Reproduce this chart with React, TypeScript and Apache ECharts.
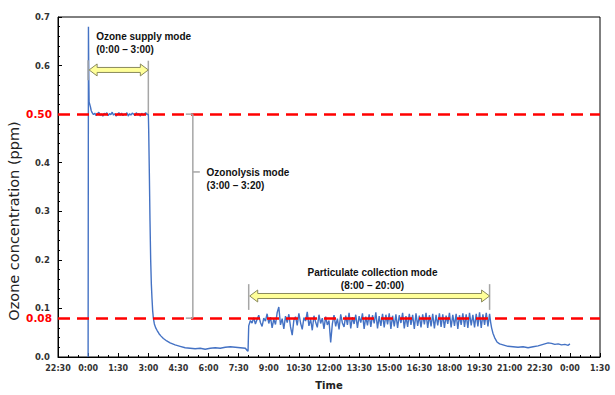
import React, { useEffect, useRef } from "react";
import * as echarts from "echarts";

// ---- data (time in minutes from 0:00, ozone ppm) ----
const xTickLabelsMin = -90; // 22:30 previous day
const xTickLabelsMax = 1530; // 1:30 next day
const xTickInterval = 90;

const startSpike: [number, number][] = [
  [0, 0], [1, 0.68], [2, 0.58], [3, 0.525], [5, 0.52], [7, 0.515], [9, 0.508],
];

const plateauStart = 12;
const plateauStep = 4;
const plateauValues = [
  0.503, 0.499, 0.502, 0.497, 0.501, 0.504, 0.498, 0.500, 0.496, 0.502,
  0.499, 0.503, 0.497, 0.501, 0.499, 0.504, 0.498, 0.501, 0.496, 0.500,
  0.503, 0.498, 0.502, 0.497, 0.500, 0.499, 0.503, 0.496, 0.501, 0.498,
  0.502, 0.500, 0.497, 0.503, 0.499, 0.501, 0.496, 0.502, 0.498, 0.500,
  0.503, 0.499, 0.501,
];

const ozonolysisDecay: [number, number][] = [
  [181, 0.47], [183, 0.38], [185, 0.28], [187, 0.2], [189, 0.15], [191, 0.12],
  [193, 0.095], [195, 0.08], [198, 0.068], [202, 0.06], [206, 0.055],
  [212, 0.048], [218, 0.043], [225, 0.038], [235, 0.033],
];

const baselineMorning: [number, number][] = [
  [245, 0.029], [260, 0.025], [275, 0.022], [290, 0.019], [305, 0.018],
  [320, 0.017], [335, 0.018], [350, 0.016], [365, 0.018], [380, 0.019],
  [395, 0.018], [410, 0.02], [425, 0.021], [440, 0.02], [455, 0.019],
  [470, 0.018], [476, 0.013], [478, 0.012],
];

const collectionStart = 480;
const collectionStep = 5;
const collectionValues = [
  0.064, 0.075, 0.070, 0.081, 0.068, 0.077, 0.086, 0.071, 0.063, 0.080,
  0.074, 0.089, 0.069, 0.082, 0.060, 0.078, 0.067, 0.091, 0.103, 0.066,
  0.079, 0.058, 0.084, 0.071, 0.088, 0.062, 0.045, 0.076, 0.083, 0.065,
  0.090, 0.070, 0.057, 0.081, 0.074, 0.093, 0.064, 0.078, 0.055, 0.085,
  0.072, 0.061, 0.087, 0.069, 0.080, 0.058, 0.083, 0.066, 0.075, 0.030,
  0.068, 0.086, 0.063, 0.079, 0.057, 0.088, 0.070, 0.062, 0.085, 0.066,
  0.091, 0.059, 0.082, 0.068, 0.087, 0.060, 0.084, 0.071, 0.090, 0.058,
  0.083, 0.065, 0.088, 0.062, 0.086, 0.069, 0.092, 0.059, 0.084, 0.064,
  0.089, 0.061, 0.087, 0.067, 0.090, 0.058, 0.085, 0.063, 0.088, 0.060,
  0.086, 0.070, 0.091, 0.059, 0.084, 0.062, 0.089, 0.066, 0.087, 0.058,
  0.090, 0.064, 0.085, 0.061, 0.088, 0.067, 0.091, 0.060, 0.086, 0.063,
  0.089, 0.059, 0.087, 0.065, 0.090, 0.062, 0.088, 0.060, 0.085, 0.068,
  0.091, 0.061, 0.087, 0.064, 0.089, 0.058, 0.086, 0.066, 0.090, 0.062,
  0.088, 0.060, 0.091, 0.065, 0.087, 0.061, 0.089, 0.063, 0.092, 0.060,
  0.088, 0.066, 0.091, 0.063, 0.089,
];

const baselineEvening: [number, number][] = [
  [1203, 0.072], [1206, 0.06], [1210, 0.049], [1215, 0.04], [1222, 0.031],
  [1230, 0.027], [1240, 0.025], [1255, 0.022], [1270, 0.021], [1285, 0.02],
  [1300, 0.021], [1315, 0.019], [1330, 0.021], [1345, 0.023], [1360, 0.026],
  [1375, 0.029], [1385, 0.028], [1395, 0.026], [1405, 0.027], [1415, 0.025],
  [1425, 0.026], [1435, 0.024], [1440, 0.027],
];

const thresholdLines = [
  { value: 0.5, label: "0.50" },
  { value: 0.08, label: "0.08" },
];

const yAxisTitle = "Ozone concentration (ppm)";
const xAxisTitle = "Time";

const annotations = {
  supply: { text: "Ozone supply mode\n(0:00 – 3:00)", from: 0, to: 180 },
  ozonolysis: { text: "Ozonolysis mode\n(3:00 – 3:20)" },
  collection: { text: "Particulate collection mode\n(8:00 – 20:00)", from: 480, to: 1200 },
};

function buildSeries(): [number, number][] {
  const out: [number, number][] = [];
  out.push(...startSpike);
  plateauValues.forEach((v, i) => out.push([plateauStart + i * plateauStep, v]));
  out.push(...ozonolysisDecay);
  out.push(...baselineMorning);
  collectionValues.forEach((v, i) => out.push([collectionStart + i * collectionStep, v]));
  out.push(...baselineEvening);
  return out;
}

function fmtTime(t: number): string {
  const m = ((Math.round(t) % 1440) + 1440) % 1440;
  const h = Math.floor(m / 60);
  const mm = m % 60;
  return `${h}:${mm < 10 ? "0" + mm : mm}`;
}

const AXIS_FONT = "DejaVu Sans";
const NOTE_FONT = "Liberation Sans";

export default function App() {
  const ref = useRef<HTMLDivElement>(null);

  useEffect(() => {
    if (!ref.current) return;
    const chart = echarts.init(ref.current, undefined, { renderer: "svg" });
    const data = buildSeries();

    chart.setOption({
      animation: false,
      backgroundColor: "#fff",
      grid: {
        left: 58,
        right: 15,
        top: 17,
        bottom: 38,
        show: true,
        borderColor: "#000",
        borderWidth: 1,
        containLabel: false,
      },
      xAxis: {
        type: "value",
        min: xTickLabelsMin,
        max: xTickLabelsMax,
        interval: xTickInterval,
        name: xAxisTitle,
        nameLocation: "middle",
        nameGap: 23,
        nameTextStyle: { fontFamily: AXIS_FONT, fontWeight: "bold", fontSize: 10, color: "#222" },
        axisLine: { show: true, onZero: false, lineStyle: { color: "#000", width: 1 } },
        axisTick: { show: true, inside: true, length: 4, lineStyle: { color: "#000" } },
        minorTick: { show: true, splitNumber: 3, length: 2, lineStyle: { color: "#000" } },
        splitLine: { show: false },
        axisLabel: {
          formatter: (v: number) => fmtTime(v),
          fontFamily: AXIS_FONT,
          fontWeight: "bold",
          fontSize: 8,
          color: "#333",
          margin: 7,
          showMinLabel: true,
          showMaxLabel: true,
        },
      },
      yAxis: {
        type: "value",
        min: 0,
        max: 0.7,
        interval: 0.1,
        axisLine: { show: true, onZero: false, lineStyle: { color: "#000", width: 1 } },
        axisTick: { show: true, inside: true, length: 4, lineStyle: { color: "#000" } },
        minorTick: { show: true, splitNumber: 5, length: 2, lineStyle: { color: "#000" } },
        splitLine: { show: false },
        axisLabel: {
          formatter: (v: number) => (Math.abs(v - 0.5) < 1e-6 ? "" : v.toFixed(1)),
          fontFamily: AXIS_FONT,
          fontWeight: "bold",
          fontSize: 8.5,
          color: "#333",
          margin: 8,
        },
      },
      series: [
        {
          type: "line",
          data,
          showSymbol: false,
          symbol: "none",
          lineStyle: { color: "#4472C4", width: 1.4 },
          z: 3,
          markLine: {
            silent: true,
            symbol: "none",
            z: 4,
            lineStyle: { color: "#FF0000", type: [12, 7], width: 2.5 },
            label: {
              show: true,
              position: "start",
              distance: 6,
              color: "#FF0000",
              fontFamily: AXIS_FONT,
              fontWeight: "bold",
              fontSize: 10.5,
            },
            data: thresholdLines.map((t) => ({
              yAxis: t.value,
              label: { formatter: t.label },
            })),
          },
        },
      ],
    });

    const p = (t: number, v: number): number[] =>
      chart.convertToPixel({ gridIndex: 0 }, [t, v]) as number[];

    const arrow = (x1: number, x2: number, y: number) => {
      const h = 2.5, H = 6, L = 8;
      return {
        type: "polygon",
        shape: {
          points: [
            [x1, y], [x1 + L, y - H], [x1 + L, y - h], [x2 - L, y - h], [x2 - L, y - H],
            [x2, y], [x2 - L, y + H], [x2 - L, y + h], [x1 + L, y + h], [x1 + L, y + H],
          ],
        },
        style: { fill: "#FFFF99", stroke: "#8A8A5C", lineWidth: 1 },
        z: 10,
      };
    };
    const gline = (a: number[], b: number[]) => ({
      type: "line",
      shape: { x1: a[0], y1: a[1], x2: b[0], y2: b[1] },
      style: { stroke: "#A6A6A6", lineWidth: 1.5 },
      z: 9,
    });
    const note = (x: number, y: number, text: string, align: string) => ({
      type: "text",
      x,
      y,
      z: 11,
      style: {
        text,
        fill: "#111",
        fontFamily: NOTE_FONT,
        fontWeight: "bold",
        fontSize: 10,
        lineHeight: 13,
        align,
        verticalAlign: "top",
      },
    });

    const s = annotations.supply;
    const sL = p(s.from, 0.591);
    const sR = p(s.to, 0.591);
    const c = annotations.collection;
    const cL = p(c.from, 0.1256);
    const cR = p(c.to, 0.1256);
    const bx = p(313, 0.5)[0];
    const bTop = p(313, 0.5)[1];
    const bBot = p(313, 0.08)[1];
    const bMid = p(313, 0.381)[1];
    const sText = p(24, 0.673);
    const oText = p(354, 0.394);
    const cText = p(850, 0.188);
    const yTitle = p(-90, 0.28);

    chart.setOption({
      graphic: [
        {
          type: "text",
          x: 14,
          y: yTitle[1],
          rotation: Math.PI / 2,
          z: 11,
          style: {
            text: yAxisTitle,
            fill: "#222",
            fontFamily: AXIS_FONT,
            fontSize: 14.5,
            align: "center",
            verticalAlign: "middle",
          },
        },
        gline(p(s.from, 0.611), p(s.from, 0.57)),
        gline(p(s.to, 0.61), p(s.to, 0.5)),
        arrow(sL[0] + 1, sR[0], sL[1]),
        note(sText[0], sText[1], s.text, "left"),
        gline([bx - 7, bTop], [bx, bTop]),
        gline([bx, bTop], [bx, bBot]),
        gline([bx - 7, bBot], [bx, bBot]),
        gline([bx, bMid], [bx + 7, bMid]),
        note(oText[0], oText[1], annotations.ozonolysis.text, "left"),
        gline(p(c.from, 0.15), p(c.from, 0.097)),
        gline(p(c.to, 0.15), p(c.to, 0.097)),
        arrow(cL[0] + 1, cR[0], cL[1]),
        note(cText[0], cText[1], c.text, "center"),
      ],
    });

    return () => chart.dispose();
  }, []);

  return (
    <div
      ref={ref}
      style={{ position: "absolute", left: 0, top: 0, width: 615, height: 395 }}
    />
  );
}
